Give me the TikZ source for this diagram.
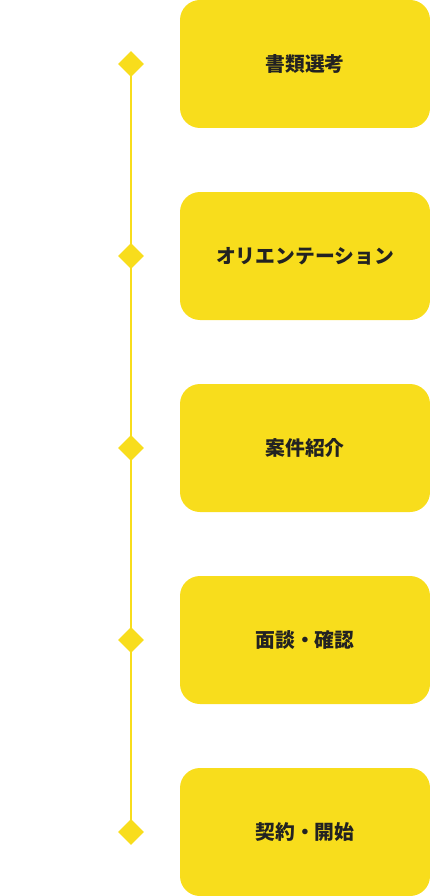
\documentclass[tikz,border=0pt]{standalone}
\usepackage{fontspec}
\newfontfamily\jpfont{Noto Sans CJK JP}
\usetikzlibrary{shapes.geometric,backgrounds}
\definecolor{flowyellow}{HTML}{F8DD1C}
\definecolor{flowtext}{HTML}{222222}
\tikzset{
  stepbox/.style={draw=none, fill=flowyellow, rounded corners=20pt, minimum width=250pt, minimum height=128pt, inner sep=0pt, text=flowtext, font=\jpfont\bfseries\fontsize{19.8}{22}\selectfont},
  marker/.style={shape=diamond, fill=flowyellow, draw=none, inner sep=0pt, minimum width=26pt, minimum height=26pt},
  spine/.style={draw=flowyellow, line width=1.4pt}
}
\begin{document}
\begin{tikzpicture}[x=1pt,y=1pt]
\useasboundingbox (0,0) rectangle (430,-896);
\node[stepbox] (b1) at (305,-64) {書類選考};
\node[stepbox] (b2) at (305,-256) {オリエンテーション};
\node[stepbox] (b3) at (305,-448) {案件紹介};
\node[stepbox] (b4) at (305,-640) {面談・確認};
\node[stepbox] (b5) at (305,-832) {契約・開始};
\node[marker] (d1) at (131,-64) {};
\node[marker] (d2) at (131,-256) {};
\node[marker] (d3) at (131,-448) {};
\node[marker] (d4) at (131,-640) {};
\node[marker] (d5) at (131,-832) {};
\begin{scope}[on background layer]
\draw[spine] (d1.center) -- (d5.center);
\end{scope}
\end{tikzpicture}
\end{document}
